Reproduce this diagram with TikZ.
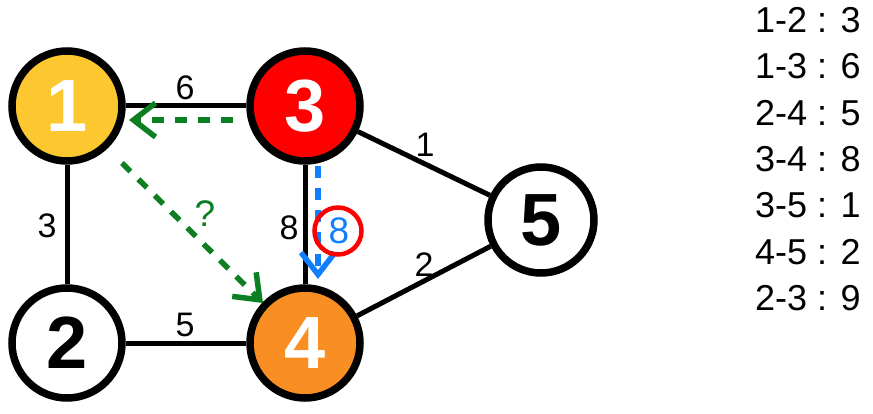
\documentclass[tikz,border=0pt]{standalone}
\usepackage{fontspec}
\setmainfont{Liberation Sans}
\usetikzlibrary{arrows.meta}
\definecolor{cyel}{HTML}{FDC82F}
\definecolor{cred}{HTML}{FF0000}
\definecolor{corg}{HTML}{F98E22}
\definecolor{cgrn}{HTML}{0B7F22}
\definecolor{cblu}{HTML}{0F7FFF}
\tikzset{
  vert/.style={circle, draw=black, line width=7.5pt, minimum size=110pt, inner sep=0pt,
    font=\fontsize{74}{74}\selectfont\bfseries},
  edge/.style={line width=5pt},
  elab/.style={font=\fontsize{34}{34}\selectfont, inner sep=0pt},
  tip/.style={-{Straight Barb[length=22pt,width=34pt,line width=5.5pt]}},
  garrow/.style={cgrn, line width=5.5pt, dash pattern=on 12pt off 11pt, tip},
  barrow/.style={cblu, line width=5.5pt, dash pattern=on 12pt off 10pt, tip},
  listtxt/.style={font=\fontsize{36}{36}\selectfont, anchor=west, inner sep=0pt}
}
\begin{document}
\begin{tikzpicture}[x=1pt,y=-1pt]
\useasboundingbox (0,0) rectangle (873,414);
\node[vert, fill=cyel, text=white] (n1) at (67,106) {1};
\node[vert, fill=cred, text=white] (n3) at (305,106) {3};
\node[vert, fill=white, text=black] (n2) at (67,343) {2};
\node[vert, fill=corg, text=white] (n4) at (305,343) {4};
\node[vert, fill=white, text=black, minimum size=106pt] (n5) at (541,220) {5};
% edges
\draw[edge] (n1) -- (n3);
\draw[edge] (n1) -- (n2);
\draw[edge] (n2) -- (n4);
\draw[edge] (n3) -- (n4);
\draw[edge] (n3) -- (n5);
\draw[edge] (n4) -- (n5);
% edge labels
\node[elab] (l13) at (185,88) {6};
\node[elab] (l12) at (47,226) {3};
\node[elab] (l24) at (185,325) {5};
\node[elab] (l34) at (289,228) {8};
\node[elab] (l35) at (425,145) {1};
\node[elab] (l45) at (424,265) {2};
% green arrows
\coordinate (g1s) at (233,120);
\coordinate (g1e) at (129,120);
\draw[garrow] (g1s) -- (g1e);
\coordinate (g2s) at (122,163);
\coordinate (g2e) at (263,303);
\draw[garrow] (g2s) -- (g2e);
\node[elab, text=cgrn, font=\fontsize{37}{37}\selectfont] (q) at (205,214) {?};
% blue arrow
\coordinate (bs) at (318,166);
\coordinate (be) at (318,279);
\draw[barrow] (bs) -- (be);
\node[circle, draw=cred, line width=4.5pt, minimum size=47pt, inner sep=0pt] (rc) at (338,231) {};
\node[elab, text=cblu, font=\fontsize{37}{37}\selectfont] (b8) at (339,231) {8};
% list
\node[listtxt] (t1) at (755,20) {1-2 : 3};
\node[listtxt] (t2) at (755,66) {1-3 : 6};
\node[listtxt] (t3) at (755,113) {2-4 : 5};
\node[listtxt] (t4) at (755,159) {3-4 : 8};
\node[listtxt] (t5) at (755,205) {3-5 : 1};
\node[listtxt] (t6) at (755,252) {4-5 : 2};
\node[listtxt] (t7) at (755,298) {2-3 : 9};
\end{tikzpicture}
\end{document}
